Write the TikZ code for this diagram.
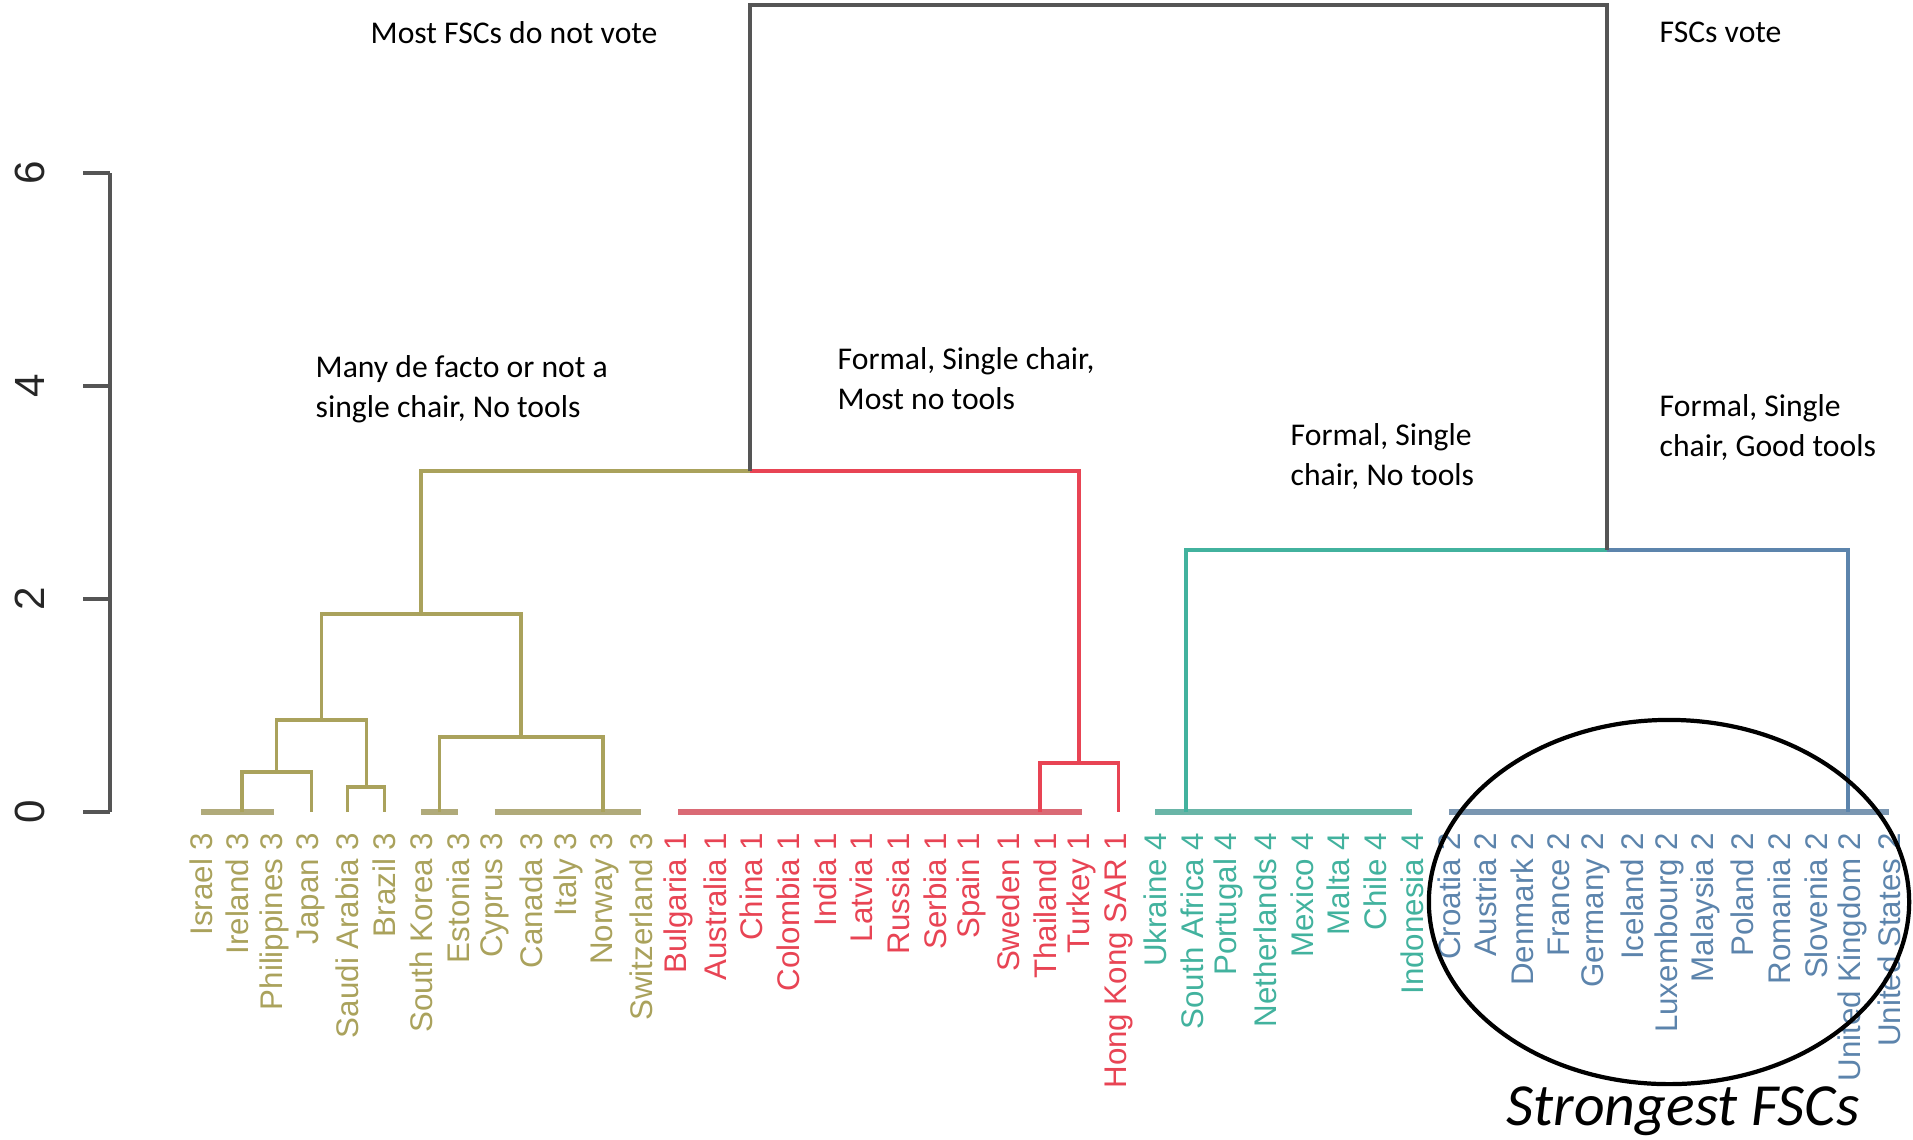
\documentclass[tikz,border=0pt]{standalone}
\usepackage{fontspec}
\setmainfont{Carlito}
\newfontfamily\plotfont{Liberation Sans}
\usepackage{xcolor}
\usepackage{tikz}
\usetikzlibrary{calc}

\definecolor{olv}{RGB}{170,162,92}
\definecolor{rdc}{RGB}{232,68,84}
\definecolor{tel}{RGB}{66,178,158}
\definecolor{blu}{RGB}{92,132,172}
\definecolor{axgray}{RGB}{85,85,85}

\begin{document}
\begin{tikzpicture}[x=0.01cm, y=-0.01cm,
  branch/.style={line width=0.9pt, draw=#1},
  zero/.style={line width=1.6pt, draw=#1!80!gray!85!white},
  leaflbl/.style={rotate=90, anchor=east, inner sep=0pt,
                  font=\plotfont\fontsize{8.9}{10}\selectfont, text=#1},
  note/.style={anchor=base west, align=left, inner sep=0pt,
               font=\fontsize{9}{11.1}\selectfont},
]
  \useasboundingbox (0,0) rectangle (1913,1139);

  % height axis
  \draw[axgray, line width=0.9pt] (110,173) -- (110,812);
  \foreach \v in {0,2,4,6} {
    \draw[axgray, line width=0.9pt] (83,{812-106.5*\v}) -- (110,{812-106.5*\v});
    \node[rotate=90, inner sep=0pt, font=\plotfont\fontsize{12}{14}\selectfont, text=black!85]
      (tick\v) at (30,{812-106.5*\v}) {\v};
  }

  % leaves
  \foreach \nm/\cl [count=\i from 0] in {
      Israel 3/olv, Ireland 3/olv, Philippines 3/olv, Japan 3/olv, Saudi Arabia 3/olv,
      Brazil 3/olv, South Korea 3/olv, Estonia 3/olv, Cyprus 3/olv, Canada 3/olv,
      Italy 3/olv, Norway 3/olv, Switzerland 3/olv,
      Bulgaria 1/rdc, Australia 1/rdc, China 1/rdc, Colombia 1/rdc, India 1/rdc,
      Latvia 1/rdc, Russia 1/rdc, Serbia 1/rdc, Spain 1/rdc, Sweden 1/rdc,
      Thailand 1/rdc, Turkey 1/rdc, Hong Kong SAR 1/rdc,
      Ukraine 4/tel, South Africa 4/tel, Portugal 4/tel, Netherlands 4/tel,
      Mexico 4/tel, Malta 4/tel, Chile 4/tel, Indonesia 4/tel,
      Croatia 2/blu, Austria 2/blu, Denmark 2/blu, France 2/blu, Germany 2/blu,
      Iceland 2/blu, Luxembourg 2/blu, Malaysia 2/blu, Poland 2/blu, Romania 2/blu,
      Slovenia 2/blu, United Kingdom 2/blu, United States 2/blu} {
    \coordinate (lf\i) at ({201+36.7*\i},812);
    \node[leaflbl=\cl] (lab\i) at ({201+36.7*\i},832) {\nm};
  }

  % merge points
  \coordinate (z1) at (242,812);
  \coordinate (z2) at (439.5,812);
  \coordinate (z3) at (603,812);
  \coordinate (z4) at (1040,812);
  \coordinate (z5) at (1186,812);
  \coordinate (z6) at (1848,812);
  \coordinate (n1) at (276.5,772);
  \coordinate (n2) at (366.5,787);
  \coordinate (n3) at (321.5,720);
  \coordinate (n4) at (521,737);
  \coordinate (n5) at (421,614);
  \coordinate (n6) at (1079,763);
  \coordinate (n7) at (750,471);
  \coordinate (n8) at (1607,550);
  \coordinate (root) at (1178.5,5);

  \draw[zero=olv] (lf0) -- (lf2);
  \draw[zero=olv] (lf6) -- (lf7);
  \draw[zero=olv] (lf8) -- (lf12);
  \draw[zero=rdc] (lf13) -- (lf24);
  \draw[zero=tel] (lf26) -- (lf33);
  \draw[zero=blu] (lf34) -- (lf46);

  \draw[branch=olv] (z1) |- (n1) -| (lf3);
  \draw[branch=olv] (lf4) |- (n2) -| (lf5);
  \draw[branch=olv] (n1) |- (n3) -| (n2);
  \draw[branch=olv] (z2) |- (n4) -| (z3);
  \draw[branch=olv] (n3) |- (n5) -| (n4);
  \draw[branch=rdc] (z4) |- (n6) -| (lf25);
  \draw[branch=olv] (n5) |- (n7);
  \draw[branch=rdc] (n7) -| (n6);
  \draw[branch=tel] (z5) |- (n8);
  \draw[branch=blu] (n8) -| (z6);
  \draw[branch=axgray] (n7) |- (root) -| (n8);

  % cluster notes (base = last line)
  \node[note] (novote) at (370,43) {Most FSCs do not vote};
  \node[note] (vote) at (1659,42) {FSCs vote};
  \node[note] (grp3) at (315,417) {Many de facto or not a\\single chair, No tools};
  \node[note] (grp1) at (837,409) {Formal, Single chair,\\Most no tools};
  \node[note] (grp4) at (1290,485) {Formal, Single\\chair, No tools};
  \node[note] (grp2) at (1659,456) {Formal, Single\\chair, Good tools};

  \draw[line width=1.2pt] (1669,902) ellipse [x radius=2.40cm, y radius=1.82cm];
  \node[anchor=base, inner sep=0pt, font=\fontsize{17}{20}\selectfont\itshape]
    (strong) at (1683,1125) {Strongest FSCs};
\end{tikzpicture}
\end{document}
